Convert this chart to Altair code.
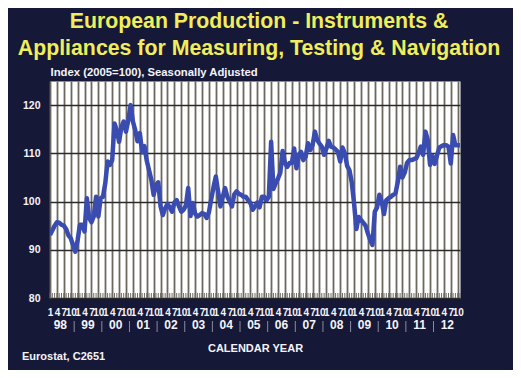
import altair as alt
import pandas as pd

# Monthly index values (2005=100), Jan 1998 .. Nov 2012
y1998 = [93.1, 94.0, 95.0, 95.7, 95.6, 95.2, 95.0, 94.3, 93.0, 92.4, 91.0, 89.6]
y1999 = [92.0, 95.2, 95.2, 93.8, 100.7, 96.6, 95.7, 96.9, 101.0, 96.9, 100.7, 101.0]
y2000 = [103.8, 108.3, 107.6, 108.6, 116.2, 114.8, 112.4, 115.5, 116.6, 114.5, 116.9, 120.0]
y2001 = [116.6, 114.8, 112.5, 114.2, 110.2, 111.5, 108.5, 106.5, 104.5, 101.4, 103.4, 104.0]
y2002 = [99.0, 97.2, 98.6, 99.5, 98.8, 97.9, 99.8, 100.3, 99.0, 97.9, 98.3, 99.2]
y2003 = [102.8, 97.0, 99.7, 97.5, 96.9, 97.2, 97.6, 97.4, 96.6, 97.8, 100.5, 103.0]
y2004 = [105.2, 102.0, 99.0, 101.0, 102.8, 101.0, 100.0, 99.0, 101.5, 102.1, 101.6, 101.4]
y2005 = [101.0, 101.0, 100.3, 99.7, 98.3, 99.0, 99.8, 98.8, 101.0, 101.0, 100.3, 101.0]
y2006 = [112.4, 102.6, 103.8, 104.8, 106.0, 110.5, 108.0, 107.2, 108.0, 108.0, 111.0, 106.9]
y2007 = [109.7, 110.3, 108.6, 109.3, 112.1, 110.7, 111.7, 114.5, 112.8, 112.0, 111.4, 109.7]
y2008 = [111.0, 112.6, 111.4, 111.2, 110.8, 110.3, 108.3, 111.2, 110.0, 107.4, 106.5, 104.0]
y2009 = [99.7, 94.3, 96.8, 96.2, 95.6, 95.0, 93.4, 92.0, 91.0, 97.9, 98.8, 101.4]
y2010 = [100.0, 97.4, 100.3, 100.7, 101.0, 101.4, 101.7, 104.1, 107.2, 105.0, 106.0, 108.0]
y2011 = [108.6, 108.6, 108.8, 109.0, 110.0, 111.4, 109.7, 114.5, 112.8, 107.6, 109.5, 107.8]
y2012 = [109.5, 111.2, 111.5, 111.7, 111.7, 111.4, 107.9, 113.8, 111.7, 111.7, 111.7]

values = (y1998 + y1999 + y2000 + y2001 + y2002 + y2003 + y2004 + y2005
          + y2006 + y2007 + y2008 + y2009 + y2010 + y2011 + y2012)
months = list(range(len(values)))
year_labels = ["98", "99", "00", "01", "02", "03", "04", "05", "06",
               "07", "08", "09", "10", "11", "12"]
y_ticks = [80, 90, 100, 110, 120]
title_lines = ["European Production - Instruments &",
               "Appliances for Measuring, Testing & Navigation"]
subtitle = "Index (2005=100), Seasonally Adjusted"
x_title = "CALENDAR YEAR"
source = "Eurostat, C2651"

W, H = 410, 217
BG = "#161838"
FONT = "Liberation Sans"
TXT = "#f4f4f8"
LAST = months[-1]

df = pd.DataFrame({"m": months, "v": values})
years_df = pd.DataFrame({"m": [12 * i + 4.5 for i in range(len(year_labels))],
                         "lab": year_labels})
sep_df = pd.DataFrame({"m": [12 * i - 1.5 for i in range(1, len(year_labels))]})
minor_df = pd.DataFrame({"m": months})

xscale = alt.Scale(domain=[0, LAST], nice=False, zero=False)
yscale = alt.Scale(domain=[80, 125], nice=False, zero=False)

x_axis = alt.Axis(
    values=list(range(0, LAST, 3)),
    labelExpr="(datum.value % 12) + 1",
    grid=True, gridColor="#6c6860", gridWidth=1.8, gridOpacity=1,
    ticks=False, domain=False,
    labelColor=TXT, labelFont=FONT, labelFontSize=10, labelFontWeight="bold",
    labelPadding=9, labelFlush=False, labelOverlap=False,
    title=x_title, titleColor=TXT, titleFont=FONT, titleFontSize=11,
    titleFontWeight="bold", titleY=53, titleBaseline="alphabetic",
)
y_axis = alt.Axis(
    values=y_ticks,
    grid=True, gridColor="#2a2a2a", gridWidth=1.3, gridOpacity=1,
    ticks=False, domain=False,
    labelColor=TXT, labelFont=FONT, labelFontSize=10.5, labelFontWeight="bold",
    labelPadding=10,
    title=subtitle, titleColor=TXT, titleFont=FONT, titleFontSize=11.3,
    titleFontWeight="bold", titleAngle=0, titleAlign="left", titleX=0,
    titleY=-6, titleBaseline="alphabetic",
)

minor = alt.Chart(minor_df).mark_rule(color="#6e6a64", strokeWidth=1).encode(
    x=alt.X("m:Q", scale=xscale, axis=x_axis),
    y=alt.value(H - 5), y2=alt.value(H),
)

line = alt.Chart(df).mark_line(
    color="#3b4cb0", strokeWidth=4.5, strokeJoin="round", clip=True
).encode(
    x=alt.X("m:Q", scale=xscale, axis=x_axis),
    y=alt.Y("v:Q", scale=yscale, axis=y_axis),
)

years_txt = alt.Chart(years_df).mark_text(
    font=FONT, fontSize=12, fontWeight="bold", color=TXT,
    align="center", baseline="alphabetic"
).encode(
    x=alt.X("m:Q", scale=xscale, axis=x_axis),
    y=alt.value(H + 31),
    text="lab:N",
)

seps = alt.Chart(sep_df).mark_rule(color="#8a8ca0", strokeWidth=1).encode(
    x=alt.X("m:Q", scale=xscale, axis=x_axis),
    y=alt.value(H + 23), y2=alt.value(H + 34),
)

t1 = alt.Chart(pd.DataFrame({"t": [title_lines[0]]})).mark_text(
    font=FONT, fontSize=21.3, fontWeight="bold", color="#f0ee5a",
    align="center", baseline="alphabetic"
).encode(text="t:N", x=alt.value(209), y=alt.value(-53))

t2 = alt.Chart(pd.DataFrame({"t": [title_lines[1]]})).mark_text(
    font=FONT, fontSize=21.3, fontWeight="bold", color="#f0ee5a",
    align="center", baseline="alphabetic"
).encode(text="t:N", x=alt.value(209), y=alt.value(-26))

src = alt.Chart(pd.DataFrame({"t": [source]})).mark_text(
    font=FONT, fontSize=11, fontWeight="bold", color=TXT,
    align="left", baseline="alphabetic"
).encode(text="t:N", x=alt.value(-28), y=alt.value(H + 62))

chart = alt.layer(minor, line, years_txt, seps, t1, t2, src).properties(
    width=W, height=H, background=BG,
    padding={"left": 42, "top": 73, "right": 53, "bottom": 72},
    autosize=alt.AutoSizeParams(type="none"),
).configure_view(fill="white", stroke="transparent")

chart.save("out.html", embed_options={"renderer": "svg", "actions": False})
